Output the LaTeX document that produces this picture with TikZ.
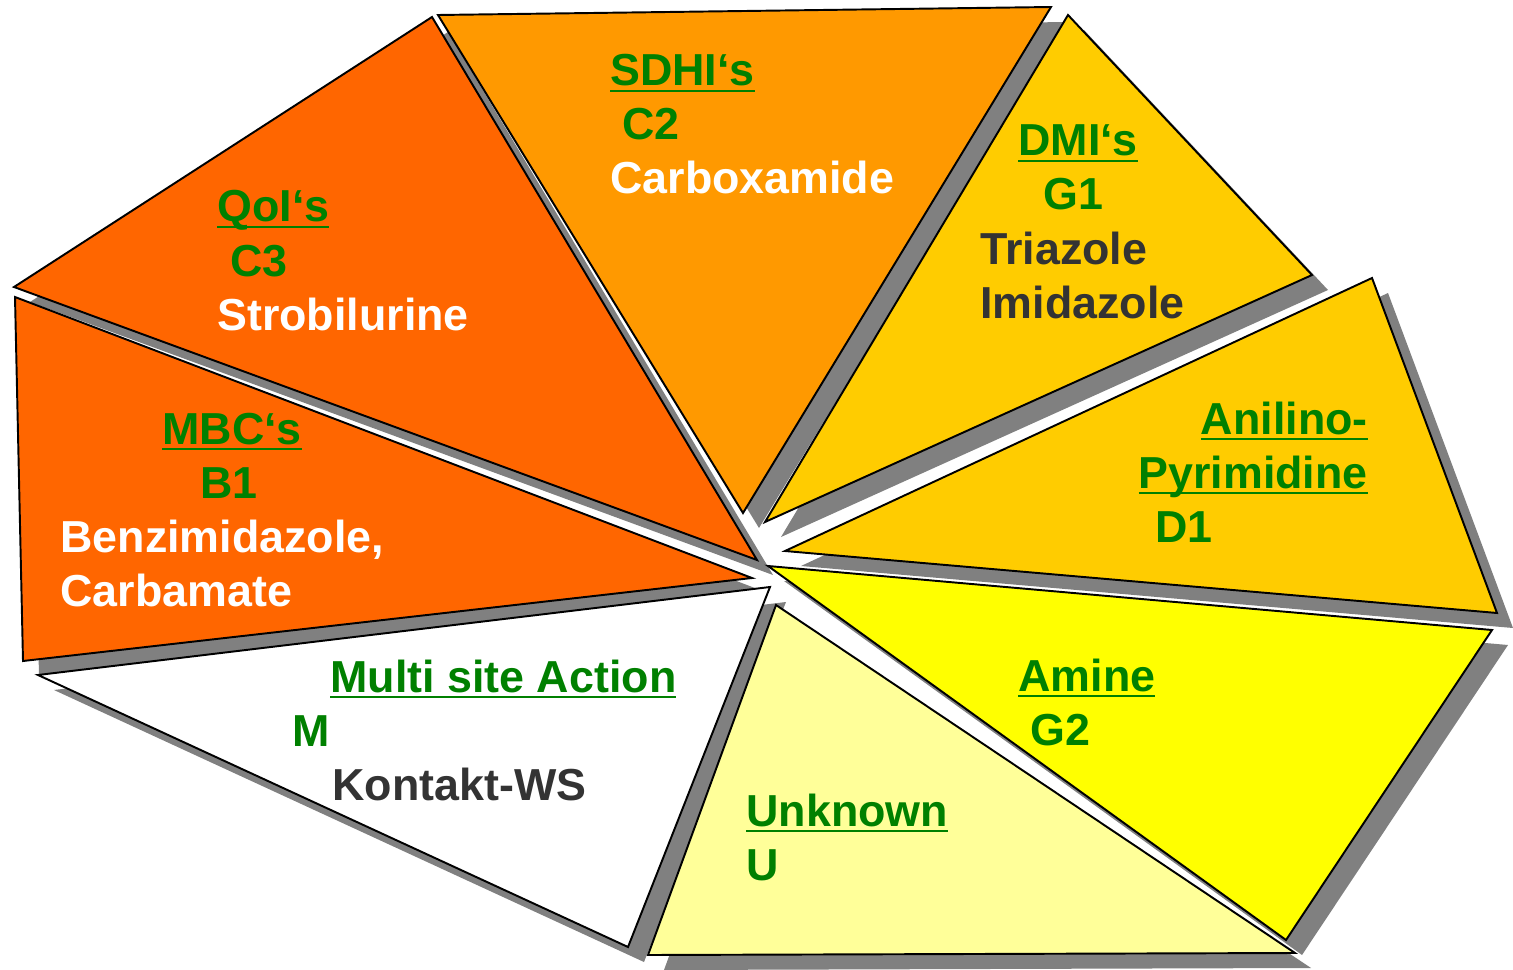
\documentclass[tikz,border=0pt]{standalone}
\usepackage{fontspec}
\setmainfont{Liberation Sans}
\usetikzlibrary{positioning}

\definecolor{shadowgrey}{HTML}{808080}
\definecolor{deeporange}{HTML}{FF6600}
\definecolor{midorange}{HTML}{FF9900}
\definecolor{goldyellow}{HTML}{FFCC00}
\definecolor{pureyellow}{HTML}{FFFF00}
\definecolor{paleyellow}{HTML}{FFFF99}
\definecolor{labelgreen}{HTML}{008000}
\definecolor{darktext}{HTML}{333333}

% underlined group name
\newcommand{\grpname}[1]{\setbox0\hbox{#1}\rlap{\rule[-3.2pt]{\wd0}{1pt}}\box0}

\tikzset{
  piece/.style={draw=black, line width=1.1pt, line join=miter},
  pieceshadow/.style={fill=shadowgrey, shift={(16,15)}},
  lbl/.style={font=\fontsize{25.5}{30}\selectfont\bfseries, inner sep=0pt, anchor=base west},
  grp/.style={lbl, text=labelgreen},
  wlbl/.style={lbl, text=white},
  dlbl/.style={lbl, text=darktext}
}

\begin{document}
\begin{tikzpicture}[x=0.2mm, y=-0.2mm]
  \useasboundingbox (0,0) rectangle (1513,970);

  % QoI's
  \fill[pieceshadow] (432,17) -- (14,287) -- (757,560) -- cycle;
  \filldraw[piece, fill=deeporange] (432,17) -- (14,287) -- (757,560) -- cycle;
  % MBC's
  \fill[pieceshadow] (15,297) -- (752,578) -- (23,661) -- cycle;
  \filldraw[piece, fill=deeporange] (15,297) -- (752,578) -- (23,661) -- cycle;
  % Multi site
  \fill[pieceshadow] (38,675) -- (770,587) -- (628,947) -- cycle;
  \filldraw[piece, fill=white] (38,675) -- (770,587) -- (628,947) -- cycle;
  % SDHI's
  \fill[pieceshadow] (438,15) -- (1051,7) -- (743,513) -- cycle;
  \filldraw[piece, fill=midorange] (438,15) -- (1051,7) -- (743,513) -- cycle;
  % DMI's
  \fill[pieceshadow] (1068,15) -- (1312,275) -- (765,522) -- cycle;
  \filldraw[piece, fill=goldyellow] (1068,15) -- (1312,275) -- (765,522) -- cycle;
  % Anilino-Pyrimidine
  \fill[pieceshadow] (1372,278) -- (1497,613) -- (785,551) -- cycle;
  \filldraw[piece, fill=goldyellow] (1372,278) -- (1497,613) -- (785,551) -- cycle;
  % Amine
  \fill[pieceshadow] (768,566) -- (1492,630) -- (1286,940) -- cycle;
  \filldraw[piece, fill=pureyellow] (768,566) -- (1492,630) -- (1286,940) -- cycle;
  % Unknown
  \fill[pieceshadow] (776,605) -- (1295,953) -- (648,955) -- cycle;
  \filldraw[piece, fill=paleyellow] (776,605) -- (1295,953) -- (648,955) -- cycle;

  % labels
  \node (qoi 1) [grp] at (217,222) {\grpname{QoI‘s}};
  \node (qoi 2) [grp] at (230,276) {C3};
  \node (qoi 3) [wlbl] at (217,330) {Strobilurine};

  \node (sdhi 1) [grp] at (610,86) {\grpname{SDHI‘s}};
  \node (sdhi 2) [grp] at (622,140) {C2};
  \node (sdhi 3) [wlbl] at (610,194) {Carboxamide};

  \node (dmi 1) [grp] at (1018,156) {\grpname{DMI‘s}};
  \node (dmi 2) [grp] at (1043,210) {G1};
  \node (dmi 3) [dlbl] at (980,264) {Triazole};
  \node (dmi 4) [dlbl] at (980,318) {Imidazole};

  \node (ap 1) [grp, anchor=base east] at (1368,434) {\grpname{Anilino-}};
  \node (ap 2) [grp, anchor=base east] at (1368,488) {\grpname{Pyrimidine}};
  \node (ap 3) [grp] at (1155,542) {D1};

  \node (mbc 1) [grp] at (162,444) {\grpname{MBC‘s}};
  \node (mbc 2) [grp] at (200,498) {B1};
  \node (mbc 3) [wlbl] at (60,552) {Benzimidazole,};
  \node (mbc 4) [wlbl] at (60,606) {Carbamate};

  \node (msa 1) [grp] at (330,692) {\grpname{Multi site Action}};
  \node (msa 2) [grp] at (292,746) {M};
  \node (msa 3) [dlbl] at (332,800) {Kontakt-WS};

  \node (amine 1) [grp] at (1018,691) {\grpname{Amine}};
  \node (amine 2) [grp] at (1030,745) {G2};

  \node (unk 1) [grp] at (746,826) {\grpname{Unknown}};
  \node (unk 2) [grp] at (746,880) {U};
\end{tikzpicture}
\end{document}
